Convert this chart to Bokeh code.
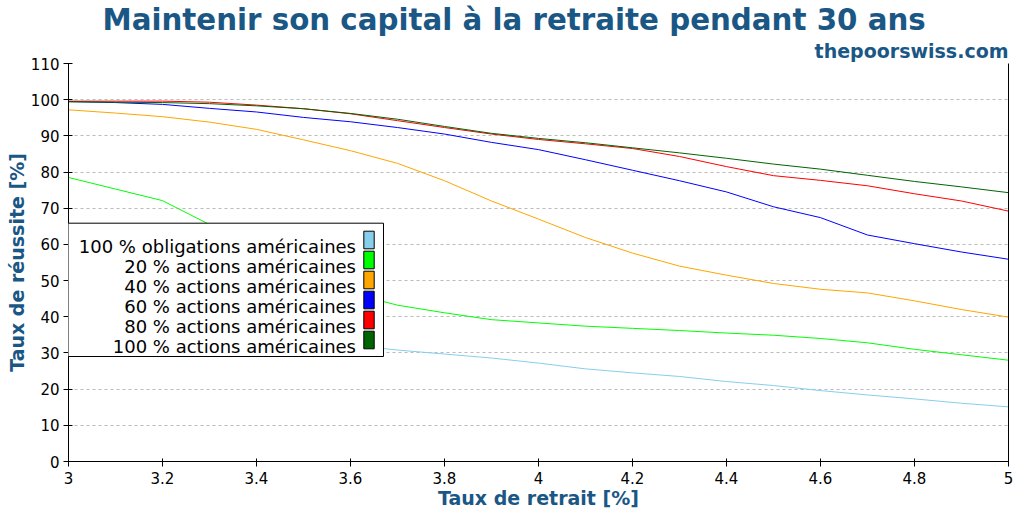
import math
from bokeh.plotting import figure
from bokeh.models import Range1d, FixedTicker, LinearAxis, Title, Label, BoxAnnotation
from bokeh.embed import file_html
from bokeh.resources import INLINE

# ---------------- data ----------------
withdrawal_rates = [3.0, 3.1, 3.2, 3.3, 3.4, 3.5, 3.6, 3.7, 3.8, 3.9, 4.0,
                    4.1, 4.2, 4.3, 4.4, 4.5, 4.6, 4.7, 4.8, 4.9, 5.0]

bonds_100 = [47.0, 43.5, 40.5, 38.0, 36.0, 34.1, 32.2, 30.8, 29.7, 28.6, 27.2,
             25.6, 24.5, 23.5, 22.1, 21.0, 19.6, 18.4, 17.3, 16.1, 15.1]
stocks_20 = [78.5, 75.3, 72.1, 65.5, 59.0, 53.0, 46.6, 43.2, 41.1, 39.2, 38.3,
             37.4, 36.8, 36.2, 35.5, 34.9, 34.0, 32.8, 31.0, 29.5, 28.0]
stocks_40 = [97.2, 96.3, 95.3, 93.8, 91.8, 88.9, 85.9, 82.4, 77.6, 72.0, 67.0,
             61.9, 57.6, 54.0, 51.5, 49.2, 47.6, 46.6, 44.4, 42.0, 39.9]
stocks_60 = [99.5, 99.2, 98.7, 97.6, 96.6, 95.1, 93.9, 92.3, 90.5, 88.2, 86.2,
             83.4, 80.5, 77.6, 74.5, 70.4, 67.4, 62.6, 60.2, 57.9, 55.9]
stocks_80 = [99.6, 99.6, 99.6, 99.3, 98.5, 97.5, 96.1, 94.2, 92.3, 90.5, 89.0,
             87.8, 86.5, 84.3, 81.5, 79.0, 77.7, 76.2, 74.0, 72.0, 69.2]
stocks_100 = [99.4, 99.3, 99.2, 98.9, 98.3, 97.5, 96.2, 94.6, 92.6, 90.7, 89.3,
              88.1, 86.7, 85.3, 83.8, 82.2, 80.8, 79.1, 77.4, 75.9, 74.3]

series_values = [bonds_100, stocks_20, stocks_40, stocks_60, stocks_80, stocks_100]
series_labels = ["100 % obligations américaines",
                 "20 % actions américaines",
                 "40 % actions américaines",
                 "60 % actions américaines",
                 "80 % actions américaines",
                 "100 % actions américaines"]
series_colors = ["skyblue", "lime", "orange", "blue", "red", "darkgreen"]

x_ticks = [3, 3.2, 3.4, 3.6, 3.8, 4, 4.2, 4.4, 4.6, 4.8, 5]
x_tick_labels = ["3", "3.2", "3.4", "3.6", "3.8", "4", "4.2", "4.4", "4.6", "4.8", "5"]
y_ticks = [0, 10, 20, 30, 40, 50, 60, 70, 80, 90, 100, 110]

title_text = "Maintenir son capital à la retraite pendant 30 ans"
site_text = "thepoorswiss.com"
x_label_text = "Taux de retrait [%]"
y_label_text = "Taux de réussite [%]"

# ---------------- styles ----------------
FONT = "DejaVu Sans"
BLUE_TXT = "#1a5785"

p = figure(width=1016, height=512, output_backend="svg", toolbar_location=None,
           x_range=Range1d(3, 5), y_range=Range1d(0, 110),
           min_border_left=68, min_border_right=8, min_border_top=63, min_border_bottom=51)
p.outline_line_color = None
p.background_fill_color = "white"
p.border_fill_color = "white"

for vals, col in zip(series_values, series_colors):
    p.line(withdrawal_rates, vals, line_color=col, line_width=1)

# axes
p.xaxis.ticker = FixedTicker(ticks=x_ticks)
p.xaxis.major_label_overrides = {float(t): l for t, l in zip(x_ticks, x_tick_labels)}
p.yaxis.ticker = FixedTicker(ticks=y_ticks)
for ax in (p.xaxis, p.yaxis):
    ax.axis_line_color = "black"
    ax.major_tick_line_color = "black"
    ax.minor_tick_line_color = None
    ax.major_label_text_font = FONT
    ax.major_label_text_font_size = "15px"
    ax.major_label_text_color = "black"
    ax.axis_label_text_font = FONT
    ax.axis_label_text_font_size = "19px"
    ax.axis_label_text_font_style = "bold"
    ax.axis_label_text_color = BLUE_TXT
p.xaxis.axis_label = x_label_text
p.yaxis.axis_label = y_label_text
p.xaxis.major_tick_in = 3
p.xaxis.major_tick_out = 5
p.xaxis.major_label_standoff = 5
p.xaxis.axis_label_standoff = 0
p.yaxis.major_tick_in = 4
p.yaxis.major_tick_out = 5
p.yaxis.major_label_standoff = 4
p.yaxis.axis_label_standoff = 0

right_axis = LinearAxis(ticker=FixedTicker(ticks=[]), major_label_text_font_size="0px",
                        major_tick_line_color=None, minor_tick_line_color=None,
                        axis_line_color="black")
p.add_layout(right_axis, "right")

p.xgrid.grid_line_color = None
p.ygrid.ticker = FixedTicker(ticks=y_ticks)
p.ygrid.grid_line_color = "#bbbbbb"
p.ygrid.grid_line_dash = "3 3"

# titles
p.add_layout(Title(text=site_text, align="right", text_font=FONT, text_font_size="19px",
                   text_font_style="bold", text_color=BLUE_TXT, standoff=3), "above")
p.add_layout(Title(text=title_text, align="left", offset=34, text_font=FONT,
                   text_font_size="29.3px", text_font_style="bold", text_color=BLUE_TXT,
                   standoff=0), "above")

# legend (inside the frame: labels right-aligned, swatches on the right)
def sbox(**kw):
    return BoxAnnotation(left_units="screen", right_units="screen",
                         top_units="screen", bottom_units="screen", **kw)

p.add_layout(sbox(left=-10, right=315, top=238.3, bottom=105,
                  fill_color="white", fill_alpha=1.0,
                  line_color="black", line_alpha=1.0, line_width=1))
for i, (lab, col) in enumerate(zip(series_labels, series_colors)):
    p.add_layout(sbox(left=295.3, right=305.7, top=230.3 - 20 * i, bottom=212.7 - 20 * i,
                      fill_color=col, fill_alpha=1.0,
                      line_color="black", line_alpha=1.0, line_width=1))
    p.add_layout(Label(x=287.5, y=215.3 - 20 * i, x_units="screen", y_units="screen",
                       text=lab, text_align="right", text_baseline="alphabetic",
                       text_font=FONT, text_font_size="18px", text_color="black"))

open("out.html", "w").write(file_html(p, INLINE))
